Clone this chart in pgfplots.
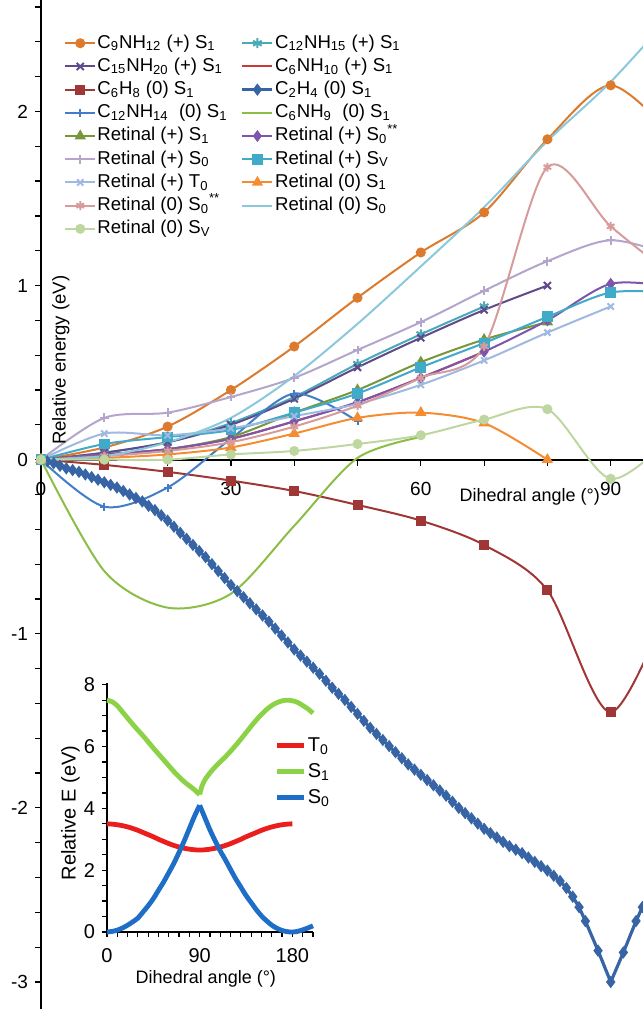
\documentclass[border=0pt]{standalone}
\usepackage{fontspec}
\setmainfont{Liberation Sans}
\usepackage{pgfplots}
\pgfplotsset{compat=1.18}
\definecolor{cA}{HTML}{DC7A2D}
\definecolor{cB}{HTML}{4BAAB9}
\definecolor{cC}{HTML}{5F4B8B}
\definecolor{cD}{HTML}{C83C37}
\definecolor{cE}{HTML}{A03737}
\definecolor{cF}{HTML}{3764A5}
\definecolor{cG}{HTML}{417DC8}
\definecolor{cH}{HTML}{8CBE46}
\definecolor{cI}{HTML}{78963C}
\definecolor{cJ}{HTML}{7D55AA}
\definecolor{cK}{HTML}{B4A5CD}
\definecolor{cL}{HTML}{41AAC8}
\definecolor{cM}{HTML}{A0B9E1}
\definecolor{cN}{HTML}{F58C32}
\definecolor{cO}{HTML}{D79B9B}
\definecolor{cP}{HTML}{8CC8DC}
\definecolor{cQ}{HTML}{BED7A0}
\definecolor{iR}{HTML}{EB1E1E}
\definecolor{iG}{HTML}{8CD246}
\definecolor{iB}{HTML}{1E6EC8}
\newcommand{\sub}[1]{\textsubscript{#1}}
\begin{document}
\begin{tikzpicture}
\useasboundingbox (0,0) rectangle (321.5pt,504.5pt);
\begin{axis}[
  at={(20.5pt,0pt)}, anchor=south west,
  scale only axis, width=301pt, height=504.5pt,
  xmin=0, xmax=95.1, ymin=-3.155, ymax=2.64,
  axis x line=middle, axis y line=left,
  axis line style={-, line width=0.9pt},
  hide obscured x ticks=false, hide obscured y ticks=false,
  tick align=outside, major tick length=3pt, minor tick length=3pt,
  tick style={black, line width=0.6pt},
  xtick={0,10,...,90}, xticklabels={0,,,30,,,60,,,90},
  ytick={-3,-2,-1,0,1,2}, yticklabels={-3,-2,-1,0,1,2},
  minor ytick={-3,-2.8,...,2.61},
  /pgf/number format/assume math mode=true,
  ticklabel style={font=\fontsize{9.5}{11}\selectfont},
  xticklabel style={yshift=-5pt},
  every axis x label/.style={at={(axis description cs:0.812,0.5074)}, anchor=center, font=\fontsize{9}{11}\selectfont},
  every axis y label/.style={at={(axis description cs:0.033,0.643)}, anchor=center, rotate=90, font=\fontsize{9.3}{11}\selectfont},
  xlabel={Dihedral angle (°)},
  ylabel={Relative energy (eV)},
  every axis plot/.append style={line width=1pt, smooth, mark size=2pt},
  legend columns=2,
  legend cell align=left,
  legend image code/.code={\draw[mark repeat=2,mark phase=2] plot coordinates {(0pt,0pt)(7.5pt,0pt)(15pt,0pt)};},
  legend style={at={(axis description cs:0.028,0.973)}, anchor=north west, draw=none, fill=none,
    font=\fontsize{9.3}{11}\selectfont, row sep=0pt,
    nodes={inner sep=0.6pt, text height=7.6pt, text depth=2.8pt},
    /tikz/every even column/.append style={column sep=6pt}},
]
\addplot[cA, mark=*] coordinates {(0,0)(10,0.07)(20,0.19)(30,0.40)(40,0.65)(50,0.93)(60,1.19)(70,1.42)(80,1.84)(90,2.15)(100,1.85)};
\addlegendentry{C\sub{9}NH\sub{12} (+) S\sub{1}}
\addplot[cB, mark=asterisk, mark size=2.5pt] coordinates {(0,0)(10,0.04)(20,0.10)(30,0.21)(40,0.36)(50,0.55)(60,0.72)(70,0.88)};
\addlegendentry{C\sub{12}NH\sub{15} (+) S\sub{1}}
\addplot[cC, mark=x, mark size=2.5pt] coordinates {(0,0)(10,0.04)(20,0.10)(30,0.20)(40,0.35)(50,0.53)(60,0.70)(70,0.86)(80,1.00)};
\addlegendentry{C\sub{15}NH\sub{20} (+) S\sub{1}}
\addplot[cD, no marks] coordinates {(0,0)(10,0.03)(20,0.06)(30,0.12)(40,0.22)(50,0.33)(60,0.47)(70,0.62)};
\addlegendentry{C\sub{6}NH\sub{10} (+) S\sub{1}}
\addplot[cE, mark=square*] coordinates {(0,0)(10,-0.03)(20,-0.07)(30,-0.12)(40,-0.18)(50,-0.26)(60,-0.35)(70,-0.49)(80,-0.75)(90,-1.45)(100,-0.75)};
\addlegendentry{C\sub{6}H\sub{8} (0) S\sub{1}}
\addplot[cF, sharp plot, line width=1.6pt, mark=diamond*, mark size=1.8pt] coordinates {
(0,0)(1,-0.01)(2,-0.02)(3,-0.035)(4,-0.05)(5,-0.06)(6,-0.07)(7,-0.085)(8,-0.10)(9,-0.115)
(10,-0.13)(11,-0.145)(12,-0.16)(13,-0.18)(14,-0.20)(15,-0.22)(16,-0.24)(17,-0.265)(18,-0.29)(19,-0.32)
(20,-0.35)(21,-0.385)(22,-0.42)(23,-0.455)(24,-0.49)(25,-0.525)(26,-0.56)(27,-0.60)(28,-0.64)(29,-0.68)
(30,-0.72)(31,-0.755)(32,-0.79)(33,-0.825)(34,-0.86)(35,-0.895)(36,-0.93)(37,-0.97)(38,-1.01)(39,-1.05)
(40,-1.09)(41,-1.125)(42,-1.16)(43,-1.195)(44,-1.23)(45,-1.27)(46,-1.31)(47,-1.345)(48,-1.38)(49,-1.42)
(50,-1.46)(51,-1.50)(52,-1.54)(53,-1.575)(54,-1.61)(55,-1.645)(56,-1.68)(57,-1.715)(58,-1.75)(59,-1.78)
(60,-1.81)(61,-1.84)(62,-1.87)(63,-1.90)(64,-1.93)(65,-1.965)(66,-2.00)(67,-2.03)(68,-2.06)(69,-2.09)
(70,-2.12)(71,-2.145)(72,-2.17)(73,-2.195)(74,-2.22)(75,-2.24)(76,-2.26)(77,-2.285)(78,-2.31)(79,-2.335)
(80,-2.36)(81,-2.39)(82,-2.42)(83,-2.46)(84,-2.51)(85,-2.57)(86,-2.65)(88,-2.82)(90,-3.00)
(92,-2.83)(94,-2.65)(95,-2.57)(96,-2.50)};
\addlegendentry{C\sub{2}H\sub{4} (0) S\sub{1}}
\addplot[cG, mark=+, mark size=2pt] coordinates {(0,0)(10,-0.27)(20,-0.16)(30,0.12)(40,0.38)(50,0.22)};
\addlegendentry{C\sub{12}NH\sub{14}\ \ (0) S\sub{1}}
\addplot[cH, no marks] coordinates {(0,0)(10,-0.64)(20,-0.85)(30,-0.77)(40,-0.38)(50,0.01)(60,0.13)};
\addlegendentry{C\sub{6}NH\sub{9}\ \ (0) S\sub{1}}
\addplot[cI, mark=triangle*, mark size=2.3pt] coordinates {(0,0)(10,0.03)(20,0.06)(30,0.13)(40,0.27)(50,0.40)(60,0.56)(70,0.69)(80,0.79)};
\addlegendentry{Retinal (+) S\sub{1}}
\addplot[cJ, mark=diamond*, mark size=2.2pt] coordinates {(0,0)(10,0.03)(20,0.06)(30,0.12)(40,0.22)(50,0.33)(60,0.47)(70,0.62)(80,0.80)(90,1.01)(100,0.99)};
\addlegendentry{Retinal (+) S\sub{0}\textsuperscript{**}}
\addplot[cK, mark=+, mark size=2.2pt] coordinates {(0,0)(10,0.24)(20,0.27)(30,0.36)(40,0.47)(50,0.63)(60,0.79)(70,0.97)(80,1.14)(90,1.26)(100,1.17)};
\addlegendentry{Retinal (+) S\sub{0}}
\addplot[cL, mark=square*, mark size=2.2pt] coordinates {(0,0)(10,0.09)(20,0.13)(30,0.17)(40,0.27)(50,0.38)(60,0.53)(70,0.67)(80,0.82)(90,0.96)(100,0.96)};
\addlegendentry{Retinal (+) S\sub{V}}
\addplot[cM, mark=x, mark size=2.2pt] coordinates {(0,0)(10,0.15)(20,0.14)(30,0.18)(40,0.25)(50,0.32)(60,0.43)(70,0.57)(80,0.73)(90,0.88)};
\addlegendentry{Retinal (+) T\sub{0}}
\addplot[cN, mark=triangle*, mark size=2.3pt] coordinates {(0,0)(10,0.01)(20,0.03)(30,0.07)(40,0.15)(50,0.24)(60,0.27)(70,0.21)(80,0.0)};
\addlegendentry{Retinal (0) S\sub{1}}
\addplot[cO, mark=asterisk, mark size=2.2pt] coordinates {(0,0)(10,0.02)(20,0.05)(30,0.10)(40,0.19)(50,0.31)(60,0.47)(70,0.65)(80,1.68)(90,1.34)(100,1.05)};
\addlegendentry{Retinal (0) S\sub{0}\textsuperscript{**}}
\addplot[cP, no marks] coordinates {(0,0)(10,0.02)(20,0.10)(30,0.24)(40,0.48)(50,0.78)(60,1.11)(70,1.45)(80,1.83)(90,2.17)(100,2.57)};
\addlegendentry{Retinal (0) S\sub{0}}
\addplot[cQ, mark=*, mark size=2pt] coordinates {(0,0)(10,0.0)(20,0.0)(30,0.03)(40,0.05)(50,0.09)(60,0.14)(70,0.23)(80,0.29)(90,-0.11)(100,0.15)};
\addlegendentry{Retinal (0) S\sub{V}}
\end{axis}
\begin{axis}[
  at={(53.5pt,38.5pt)}, anchor=south west,
  scale only axis, width=103pt, height=124.4pt,
  xmin=0, xmax=200, ymin=0, ymax=8.05,
  axis lines=left, axis line style={-, line width=0.9pt},
  clip=false,
  tick align=outside, major tick length=2.5pt, minor tick length=2.5pt,
  tick style={black, line width=0.6pt},
  xtick={0,10,...,200}, xticklabels={0,,,,,,,,,90,,,,,,,,,180,,},
  ytick={0,2,4,6,8}, minor ytick={0,0.5,...,8},
  /pgf/number format/assume math mode=true,
  ticklabel style={font=\fontsize{10}{12}\selectfont},
  xticklabel style={yshift=-2pt},
  every axis x label/.style={at={(axis description cs:0.48,-0.19)}, anchor=center, font=\fontsize{9}{11}\selectfont},
  every axis y label/.style={at={(axis description cs:-0.178,0.478)}, anchor=center, rotate=90, font=\fontsize{10}{12}\selectfont},
  xlabel={Dihedral angle (°)},
  ylabel={Relative E (eV)},
  every axis plot/.append style={line width=2.4pt, smooth, no marks},
  legend cell align=left,
  legend image code/.code={\draw plot coordinates {(0pt,0pt)(13.5pt,0pt)};},
  legend style={at={(axis description cs:0.784,0.82)}, anchor=north west, draw=none, fill=none,
    font=\fontsize{10}{12}\selectfont, row sep=0pt,
    nodes={inner sep=0.6pt, text height=9pt, text depth=2.8pt}},
]
\addplot[iR] coordinates {(0,3.50)(5,3.49)(10,3.47)(15,3.44)(20,3.40)(25,3.35)(30,3.29)(35,3.22)(40,3.15)(45,3.08)(50,3.00)(55,2.93)(60,2.86)(65,2.80)(70,2.75)(75,2.71)(80,2.68)(85,2.66)(90,2.65)(95,2.66)(100,2.68)(105,2.71)(110,2.75)(115,2.80)(120,2.86)(125,2.93)(130,3.00)(135,3.08)(140,3.15)(145,3.22)(150,3.29)(155,3.35)(160,3.40)(165,3.44)(170,3.47)(175,3.49)(180,3.50)};
\addlegendentry{T\sub{0}}
\addplot[iG] coordinates {(0,7.50)(5,7.45)(10,7.32)(15,7.12)(20,6.92)(25,6.72)(30,6.53)(35,6.35)(40,6.15)(45,5.95)(50,5.76)(55,5.57)(60,5.38)(65,5.19)(70,5.02)(75,4.86)(80,4.73)(85,4.60)(88,4.50)(90,4.45)};
\addlegendentry{S\sub{1}}
\addplot[iG, forget plot] coordinates {(90,4.45)(92,4.70)(95,4.92)(100,5.15)(105,5.34)(110,5.51)(115,5.67)(120,5.85)(125,6.04)(130,6.24)(135,6.45)(140,6.66)(145,6.86)(150,7.04)(155,7.20)(160,7.33)(165,7.42)(170,7.48)(175,7.50)(180,7.48)(185,7.43)(190,7.33)(195,7.22)(200,7.08)};
\addplot[iB] coordinates {(0,0)(5,0.02)(10,0.06)(15,0.13)(20,0.22)(25,0.33)(30,0.45)(35,0.65)(40,0.85)(45,1.08)(50,1.35)(55,1.62)(60,1.92)(65,2.23)(70,2.58)(75,2.95)(80,3.35)(85,3.75)(90,4.10)};
\addlegendentry{S\sub{0}}
\addplot[iB, forget plot] coordinates {(90,4.10)(95,3.70)(100,3.30)(105,2.95)(110,2.62)(115,2.33)(120,2.02)(125,1.72)(130,1.45)(135,1.18)(140,0.95)(145,0.72)(150,0.52)(155,0.36)(160,0.22)(165,0.12)(170,0.05)(175,0.01)(180,0.0)(185,0.02)(190,0.07)(195,0.13)(200,0.20)};
\end{axis}
\end{tikzpicture}
\end{document}
